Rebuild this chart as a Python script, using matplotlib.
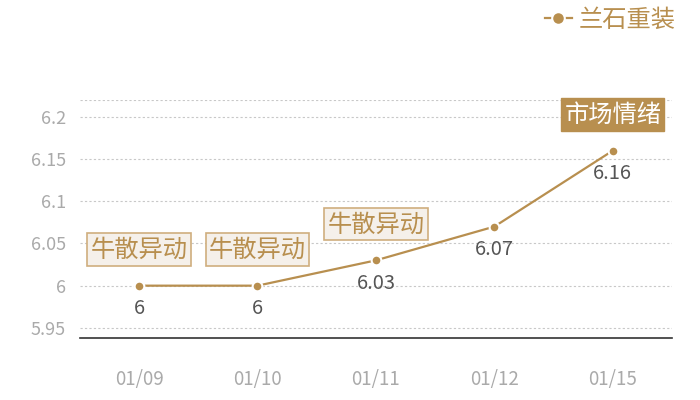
import matplotlib
matplotlib.use("Agg")
import matplotlib.pyplot as plt

plt.rcParams['font.family'] = ['Noto Sans CJK SC', 'DejaVu Sans']

dates = ["01/09", "01/10", "01/11", "01/12", "01/15"]
prices = [6.00, 6.00, 6.03, 6.07, 6.16]
series_name = "兰石重装"
# (index, label, highlighted)
events = [(0, "牛散异动", False), (1, "牛散异动", False),
          (2, "牛散异动", False), (4, "市场情绪", True)]

GOLD = "#b88f4f"

fig = plt.figure(figsize=(7, 4), dpi=100)
ax = fig.add_axes([0.114, 0.155, 0.846, 0.595])

x = list(range(len(dates)))
ax.plot(x, prices, color=GOLD, lw=1.6, marker="o", markersize=7,
        markerfacecolor=GOLD, markeredgecolor="white", markeredgewidth=1.5,
        label=series_name, zorder=3)

for i, v in zip(x, prices):
    ax.annotate(f"{v:g}", (i, v), xytext=(0, -9), textcoords="offset points",
                ha="center", va="top", fontsize=14.5, color="#555555")

for i, label, hl in events:
    if hl:
        props = dict(boxstyle="square,pad=0.13", facecolor=GOLD, edgecolor=GOLD)
        tc = "white"
    else:
        props = dict(boxstyle="square,pad=0.13", facecolor="#f5f0ea",
                     edgecolor="#cfae7e", lw=1.2)
        tc = GOLD
    ax.annotate(label, (i, prices[i]), xytext=(0, 26), textcoords="offset points",
                ha="center", va="center", fontsize=17.5, color=tc, bbox=props, zorder=4)

ax.set_xlim(-0.5, len(dates) - 0.5)
ax.set_ylim(5.938, 6.22)
ax.set_yticks([5.95, 6.0, 6.05, 6.1, 6.15, 6.2])
ax.set_yticklabels(["5.95", "6", "6.05", "6.1", "6.15", "6.2"])
ax.set_xticks(x)
ax.set_xticklabels(dates)
ax.tick_params(axis="both", length=0, labelsize=13, labelcolor="#aaaaaa")
ax.tick_params(axis="x", pad=22, labelsize=13.5)
ax.tick_params(axis="y", pad=10)

ax.grid(True, axis="y", color="#c8c8c8", linestyle=(0, (2, 2)), lw=0.8)
ax.axhline(6.22, color="#c8c8c8", linestyle=(0, (2, 2)), lw=0.8)
for s in ["top", "right", "left"]:
    ax.spines[s].set_visible(False)
ax.spines["bottom"].set_color("#333333")
ax.spines["bottom"].set_linewidth(1.2)

fig.legend(loc="upper right", bbox_to_anchor=(0.997, 1.038), frameon=False,
           fontsize=17.5, labelcolor=GOLD, handlelength=1.1, handletextpad=0.3,
           markerscale=1.3)

fig.savefig("out.png", dpi=100, facecolor="white")
